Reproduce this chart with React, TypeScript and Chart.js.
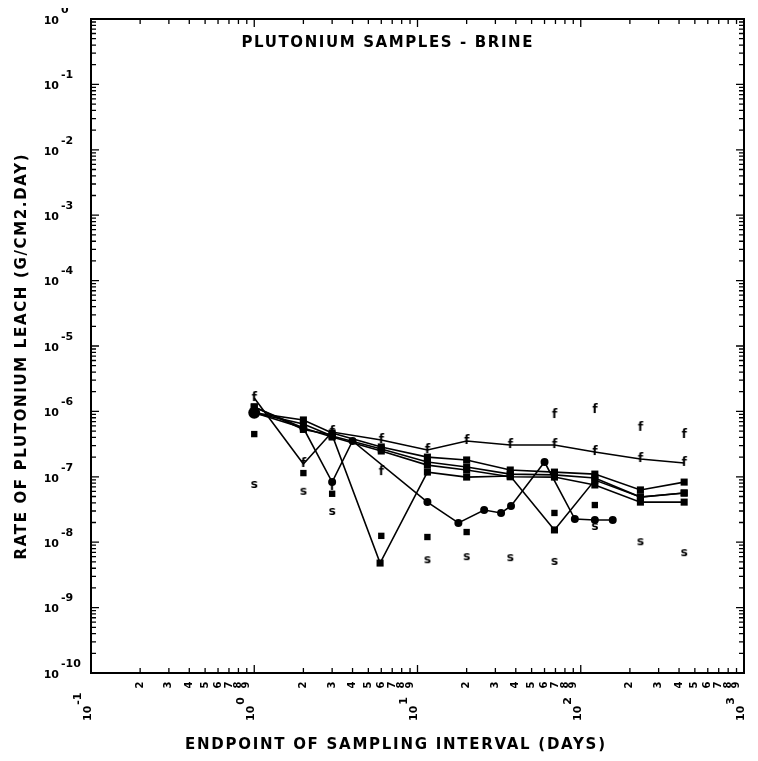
import React, { useEffect, useRef } from 'react';
import { Chart, registerables } from 'chart.js';

Chart.register(...registerables);

const chartTitle = 'PLUTONIUM SAMPLES - BRINE';
const xAxisTitle = 'ENDPOINT OF SAMPLING INTERVAL (DAYS)';
const yAxisTitle = 'RATE OF PLUTONIUM LEACH (G/CM2.DAY)';

const xMajorExponents = [-1, 0, 1, 2, 3];
const xMinorDigits = [2, 3, 4, 5, 6, 7, 8, 9];
const yMajorExponents = [-10, -9, -8, -7, -6, -5, -4, -3, -2, -1, 0];
const yMinorDigits = [2, 3, 4, 5, 6, 7, 8, 9];

// line with "f" markers
const fLineDays = [1, 2, 3, 6, 11.5, 20, 37, 69, 122, 232, 430];
const fLineRate = [1.6e-6, 1.57e-7, 4.84e-7, 3.66e-7, 2.57e-7, 3.53e-7, 3.06e-7, 3.06e-7, 2.39e-7, 1.87e-7, 1.63e-7];

// irregular line with round markers
const dotLineDays = [1, 2, 3, 4, 11.5, 17.8, 25.6, 32.5, 37.4, 60, 92, 122, 157];
const dotLineRate = [9.5e-7, 5.57e-7, 8.3e-8, 3.53e-7, 4.1e-8, 1.97e-8, 3.1e-8, 2.8e-8, 3.58e-8, 1.68e-7, 2.26e-8, 2.18e-8, 2.18e-8];

// line with deep dips
const dipLineDays = [1, 2, 3, 5.9, 11.5, 20, 37, 69, 122, 232, 430];
const dipLineRate = [1.17e-6, 5.3e-7, 4.36e-7, 4.8e-9, 1.18e-7, 9.9e-8, 1.03e-7, 1.54e-8, 8.9e-8, 4.9e-8, 5.65e-8];

// square-marker lines
const sqDays = [1, 2, 3, 6, 11.5, 20, 37, 69, 122, 232, 430];
const sqARate = [9.5e-7, 7.4e-7, 4.67e-7, 2.86e-7, 2.0e-7, 1.81e-7, 1.27e-7, 1.18e-7, 1.1e-7, 6.3e-8, 8.3e-8];
const sqBRate = [9.5e-7, 6.4e-7, 4.2e-7, 2.66e-7, 1.68e-7, 1.41e-7, 1.1e-7, 1.07e-7, 9.6e-8, 4.9e-8, 5.65e-8];
const sqCRate = [1.17e-6, 5.57e-7, 4.06e-7, 2.48e-7, 1.51e-7, 1.27e-7, 1.0e-7, 9.9e-8, 7.5e-8, 4.1e-8, 4.1e-8];

// isolated points
const fPointDays = [3, 6, 69, 122, 232, 430];
const fPointRate = [7.0e-8, 1.18e-7, 8.8e-7, 1.05e-6, 5.6e-7, 4.36e-7];
const mPointDays = [1, 2, 3, 6, 11.5, 20, 69, 122];
const mPointRate = [4.5e-7, 1.14e-7, 5.5e-8, 1.25e-8, 1.2e-8, 1.43e-8, 2.8e-8, 3.7e-8];
const sPointDays = [1, 2, 3, 11.5, 20, 37, 69, 122, 232, 430];
const sPointRate = [7.5e-8, 5.9e-8, 2.9e-8, 5.3e-9, 5.9e-9, 5.7e-9, 5.0e-9, 1.71e-8, 1.0e-8, 6.8e-9];

type Tick = { value: number; major: boolean; exp: number; digit: number };

function logTicks(exps: number[], digits: number[]): Tick[] {
  const out: Tick[] = [];
  for (let i = 0; i < exps.length; i++) {
    const base = Math.pow(10, exps[i]);
    out.push({ value: base, major: true, exp: exps[i], digit: 1 });
    if (i < exps.length - 1) {
      for (const d of digits) out.push({ value: d * base, major: false, exp: exps[i], digit: d });
    }
  }
  return out;
}

const FONT = '"DejaVu Sans"';

function drawSpaced(ctx: CanvasRenderingContext2D, text: string, cx: number, cy: number, width: number, font: string) {
  ctx.font = font;
  (ctx as any).letterSpacing = '0px';
  const w = ctx.measureText(text).width;
  const sp = (width - w) / (text.length - 1);
  (ctx as any).letterSpacing = sp + 'px';
  ctx.textAlign = 'left';
  ctx.textBaseline = 'middle';
  ctx.fillText(text, cx - width / 2, cy);
  (ctx as any).letterSpacing = '0px';
}

const plotterAxes = {
  id: 'plotterAxes',
  afterDraw(chart: any) {
    const { ctx, chartArea: a, scales } = chart;
    const xs = scales.x;
    const ys = scales.y;
    ctx.save();
    ctx.strokeStyle = '#000';
    ctx.fillStyle = '#000';
    ctx.lineWidth = 2;
    ctx.strokeRect(a.left, a.top, a.right - a.left, a.bottom - a.top);

    ctx.lineWidth = 1.3;
    const xt = logTicks(xMajorExponents, xMinorDigits);
    for (const t of xt) {
      const px = xs.getPixelForValue(t.value);
      const len = t.major ? 8 : 5;
      ctx.beginPath();
      ctx.moveTo(px, a.bottom);
      ctx.lineTo(px, a.bottom - len);
      ctx.moveTo(px, a.top);
      ctx.lineTo(px, a.top + len);
      ctx.stroke();
    }
    const yt = logTicks(yMajorExponents, yMinorDigits);
    for (const t of yt) {
      const py = ys.getPixelForValue(t.value);
      const len = t.major ? 8 : 5;
      ctx.beginPath();
      ctx.moveTo(a.left, py);
      ctx.lineTo(a.left + len, py);
      ctx.moveTo(a.right, py);
      ctx.lineTo(a.right - len, py);
      ctx.stroke();
    }

    // x tick labels (rotated)
    for (const t of xt) {
      const px = xs.getPixelForValue(t.value);
      ctx.save();
      if (t.major) {
        ctx.translate(px - 3, a.bottom + 48);
        ctx.rotate(-Math.PI / 2);
        ctx.font = 'bold 11px ' + FONT;
        ctx.textAlign = 'left';
        ctx.textBaseline = 'middle';
        ctx.fillText('10', 0, 0);
        const w = ctx.measureText('10').width;
        ctx.font = 'bold 11px ' + FONT;
        ctx.fillText(String(t.exp), w + 1, -10);
      } else {
        ctx.translate(px, a.bottom + 12);
        ctx.rotate(-Math.PI / 2);
        ctx.font = 'bold 10px ' + FONT;
        ctx.textAlign = 'center';
        ctx.textBaseline = 'middle';
        ctx.fillText(String(t.digit), 0, 0);
      }
      ctx.restore();
    }

    // y tick labels
    for (const t of yt) {
      if (!t.major) continue;
      const py = ys.getPixelForValue(t.value);
      ctx.font = 'bold 11px ' + FONT;
      ctx.textAlign = 'right';
      ctx.textBaseline = 'middle';
      ctx.fillText('10', a.left - 32, py + 2);
      ctx.font = 'bold 11px ' + FONT;
      ctx.textAlign = 'left';
      ctx.fillText(String(t.exp), a.left - 30, py - 9);
    }

    // titles
    drawSpaced(ctx, chartTitle, 379, 43, 291, 'bold 15px ' + FONT);
    drawSpaced(ctx, xAxisTitle, 387, 745, 420, 'bold 15px ' + FONT);
    ctx.save();
    ctx.translate(14, 357);
    ctx.rotate(-Math.PI / 2);
    drawSpaced(ctx, yAxisTitle, 0, 0, 405, 'bold 15px ' + FONT);
    ctx.restore();

    ctx.restore();
  },
};

function letterMarker(ch: string): HTMLCanvasElement {
  const c = document.createElement('canvas');
  c.width = 10;
  c.height = 14;
  const g = c.getContext('2d')!;
  g.fillStyle = '#000';
  g.font = 'bold 12px ' + FONT;
  g.textAlign = 'center';
  g.textBaseline = 'middle';
  g.fillText(ch, 5, 7);
  return c;
}

export default function App() {
  const ref = useRef<HTMLCanvasElement>(null);
  useEffect(() => {
    const canvas = ref.current;
    if (!canvas) return;
    const fMark = letterMarker('f');
    const sMark = letterMarker('s');
    const pts = (xs: number[], ys: number[]) => xs.map((x, i) => ({ x, y: ys[i] }));
    const line = (label: string, xs: number[], ys: number[], style: any, radius: any) => ({
      label,
      data: pts(xs, ys),
      showLine: true,
      borderColor: '#000',
      borderWidth: 1.6,
      pointStyle: style,
      pointRadius: radius,
      pointBackgroundColor: '#000',
      pointBorderColor: '#000',
      pointBorderWidth: 0,
    });
    const scatter = (label: string, xs: number[], ys: number[], style: any, radius: number) => ({
      label,
      data: pts(xs, ys),
      showLine: false,
      pointStyle: style,
      pointRadius: radius,
      pointBackgroundColor: '#000',
      pointBorderColor: '#000',
      pointBorderWidth: 0,
    });
    const dotRadius = (c: any) => (c.dataIndex === 0 ? 6 : 4);
    const chart = new Chart(canvas, {
      type: 'scatter',
      data: {
        datasets: [
          line('f line', fLineDays, fLineRate, fMark, 5),
          line('dot line', dotLineDays, dotLineRate, 'circle', dotRadius),
          line('dip line', dipLineDays, dipLineRate, 'rect', 5),
          line('square A', sqDays, sqARate, 'rect', 5),
          line('square B', sqDays, sqBRate, 'rect', 5),
          line('square C', sqDays, sqCRate, 'rect', 5),
          scatter('f points', fPointDays, fPointRate, fMark, 5),
          scatter('m points', mPointDays, mPointRate, 'rect', 4.5),
          scatter('s points', sPointDays, sPointRate, sMark, 5),
        ] as any,
      },
      options: {
        animation: false,
        responsive: true,
        maintainAspectRatio: false,
        layout: { padding: { left: 83, top: 19, right: 2, bottom: 80 } },
        plugins: { legend: { display: false }, tooltip: { enabled: false }, title: { display: false } },
        scales: {
          x: { type: 'logarithmic', min: 0.1, max: 1000, display: false },
          y: { type: 'logarithmic', min: 1e-10, max: 1, display: false },
        },
      },
      plugins: [plotterAxes],
    } as any);
    return () => chart.destroy();
  }, []);
  return (
    <div style={{ width: 742, height: 753, marginTop: -8, position: 'relative' }}>
      <canvas ref={ref} />
    </div>
  );
}
